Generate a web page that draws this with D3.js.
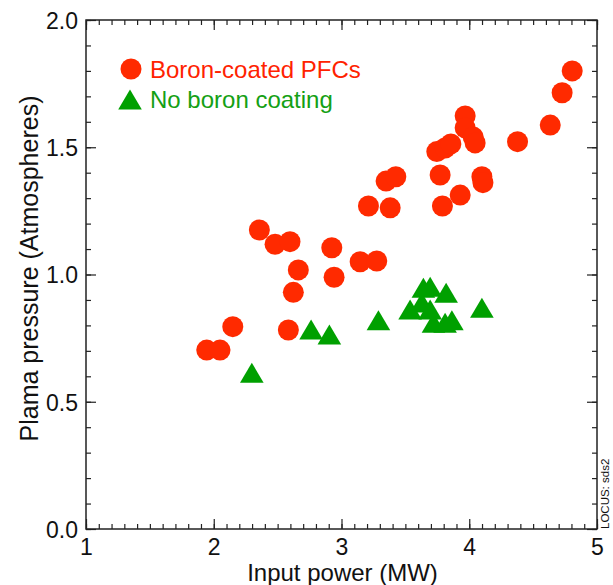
<!DOCTYPE html>
<html>
<head>
<meta charset="utf-8">
<script src="https://cdn.jsdelivr.net/npm/d3@7"></script>
<style>
  html, body { margin: 0; padding: 0; background: #fff; }
  svg { display: block; }
  text { font-family: "Liberation Sans", Arial, Helvetica, sans-serif; }
</style>
</head>
<body>
<svg id="chart" width="613" height="585"></svg>
<script>
// ---- data ----
const boronX = [1.945, 2.049, 2.149, 2.357, 2.480, 2.597, 2.662, 2.623, 2.584, 2.924, 2.942,
  3.146, 3.276, 3.211, 3.349, 3.425, 3.381, 3.746, 3.811, 3.856, 3.772, 3.790, 3.929,
  3.968, 3.968, 4.031, 4.046, 4.099, 4.107, 4.378, 4.634, 4.727, 4.806];
const boronY = [0.703, 0.703, 0.795, 1.175, 1.119, 1.129, 1.018, 0.930, 0.782, 1.105, 0.989,
  1.050, 1.053, 1.269, 1.367, 1.384, 1.262, 1.483, 1.497, 1.513, 1.391, 1.269, 1.312,
  1.623, 1.576, 1.540, 1.517, 1.384, 1.361, 1.522, 1.587, 1.714, 1.800];
const noBoronX = [2.298, 2.762, 2.905, 3.289, 3.537, 3.629, 3.641, 3.694, 3.694, 3.819,
  3.720, 3.811, 3.864, 4.099];
const noBoronY = [0.612, 0.782, 0.762, 0.818, 0.861, 0.888, 0.946, 0.950, 0.861, 0.926,
  0.808, 0.808, 0.818, 0.867];
const xTicks = [1, 2, 3, 4, 5];
const yTicks = [0.0, 0.5, 1.0, 1.5, 2.0];
const seriesNames = ["Boron-coated PFCs", "No boron coating"];
const xTitle = "Input power (MW)";
const yTitle = "Plama pressure (Atmospheres)";
const note = "LOCUS: sds2";

(function () {
// ---- layout ----
const RED = "#ff2a00", GREEN = "#00a000";
const RED_TXT = "#ff2200", GREEN_TXT = "#14a014";
const pL = 86, pR = 597, pT = 20, pB = 529;
const svg = d3.select("#chart");
const x = d3.scaleLinear().domain([1, 5]).range([pL, pR]);
const y = d3.scaleLinear().domain([0, 2]).range([pB, pT]);

const minorX = d3.range(1, 5.0001, 0.1).map(v => +v.toFixed(2));
const minorY = d3.range(0, 2.0001, 0.1).map(v => +v.toFixed(2));
const MAJ = 10, MIN = 5;

function axisG(axis, tx, ty) {
  const g = svg.append("g").attr("transform", `translate(${tx},${ty})`).call(axis);
  g.select(".domain").remove();
  g.selectAll(".tick line").attr("stroke", "#222").attr("stroke-width", 1.2);
  return g;
}
// minor ticks (inward)
axisG(d3.axisBottom(x).tickValues(minorX).tickSize(-MIN).tickFormat(""), 0, pB);
axisG(d3.axisTop(x).tickValues(minorX).tickSize(-MIN).tickFormat(""), 0, pT);
axisG(d3.axisLeft(y).tickValues(minorY).tickSize(-MIN).tickFormat(""), pL, 0);
axisG(d3.axisRight(y).tickValues(minorY).tickSize(-MIN).tickFormat(""), pR, 0);
// major ticks (inward) with labels
const xb = axisG(d3.axisBottom(x).tickValues(xTicks).tickSize(-MAJ).tickPadding(0).tickFormat(d3.format("d")), 0, pB);
xb.selectAll(".tick text").attr("y", 26).attr("dy", 0).attr("font-size", 23).attr("fill", "#111")
  .style("font-family", "'Liberation Sans', Arial, sans-serif");
axisG(d3.axisTop(x).tickValues(xTicks).tickSize(-MAJ).tickFormat(""), 0, pT);
const yl = axisG(d3.axisLeft(y).tickValues(yTicks).tickSize(-MAJ).tickFormat(d3.format(".1f")), pL, 0);
yl.selectAll(".tick text").attr("x", -8).attr("dy", "0.36em").attr("font-size", 23).attr("fill", "#111")
  .style("font-family", "'Liberation Sans', Arial, sans-serif");
axisG(d3.axisRight(y).tickValues(yTicks).tickSize(-MAJ).tickFormat(""), pR, 0);

// frame
svg.append("rect").attr("x", pL).attr("y", pT).attr("width", pR - pL).attr("height", pB - pT)
  .attr("fill", "none").attr("stroke", "#222").attr("stroke-width", 1.5);

// titles
svg.append("text").attr("x", (pL + pR) / 2 + 1).attr("y", 581).attr("text-anchor", "middle")
  .attr("font-size", 24).attr("fill", "#111").text(xTitle);
svg.append("text").attr("transform", `translate(38,${(pT + pB) / 2 - 6}) rotate(-90)`)
  .attr("text-anchor", "middle").attr("font-size", 25).attr("fill", "#111").text(yTitle);
svg.append("text").attr("transform", `translate(609,529) rotate(-90)`)
  .attr("text-anchor", "start").attr("font-size", 11.5).attr("fill", "#111").text(note);

// data marks
const triPath = "M0,-10.5L11.8,9.5L-11.8,9.5Z";
const plot = svg.append("g");
plot.selectAll("circle.boron").data(boronX.map((v, i) => [v, boronY[i]])).join("circle")
  .attr("class", "boron").attr("cx", d => x(d[0])).attr("cy", d => y(d[1])).attr("r", 10.5)
  .attr("fill", RED);
plot.selectAll("path.nob").data(noBoronX.map((v, i) => [v, noBoronY[i]])).join("path")
  .attr("class", "nob").attr("transform", d => `translate(${x(d[0])},${y(d[1])})`)
  .attr("d", triPath).attr("fill", GREEN);

// legend
const lg = svg.append("g");
lg.append("circle").attr("cx", 131).attr("cy", 69).attr("r", 10.5).attr("fill", RED);
lg.append("text").attr("x", 150).attr("y", 78).attr("font-size", 24).attr("fill", RED_TXT).text(seriesNames[0]);
lg.append("path").attr("transform", "translate(130,100)").attr("d", triPath).attr("fill", GREEN);
lg.append("text").attr("x", 150).attr("y", 108).attr("font-size", 24).attr("fill", GREEN_TXT).text(seriesNames[1]);
})();
</script>
</body>
</html>
